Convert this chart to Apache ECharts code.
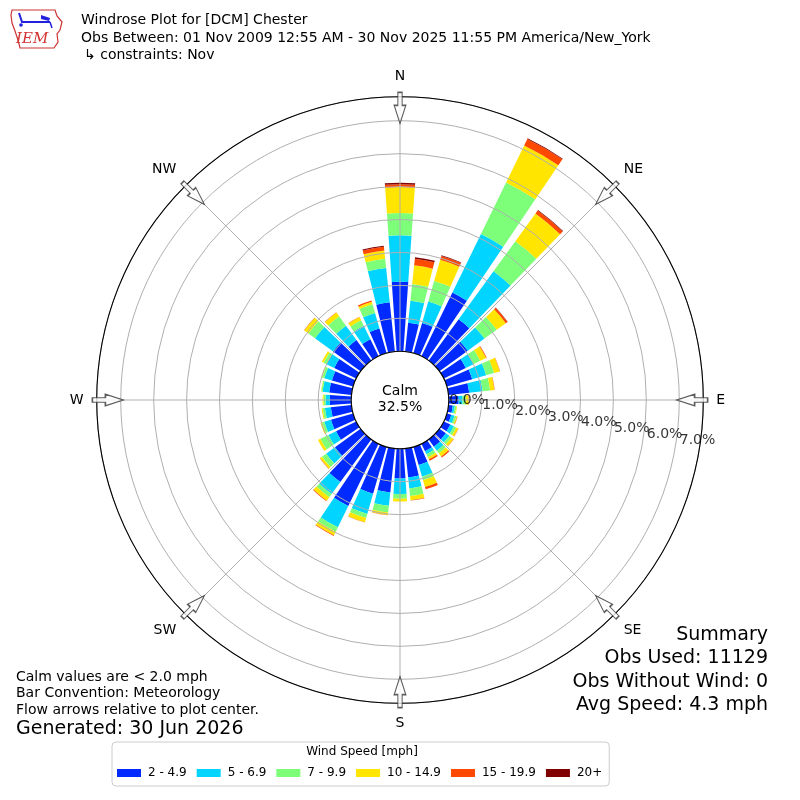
<!DOCTYPE html>
<html><head><meta charset="utf-8">
<script src="https://cdn.jsdelivr.net/npm/echarts@6/dist/echarts.min.js"></script>
<style>html,body{margin:0;padding:0;background:#fff}#c{width:800px;height:800px}</style>
</head><body><div id="c"></div>
<script>
// ---- data ----
const directions = [0,10,20,30,40,50,60,70,80,90,100,110,120,130,140,150,160,170,180,190,200,210,220,230,240,250,260,270,280,290,300,310,320,330,340,350];
const speedBins = ['2 - 4.9', '5 - 6.9', '7 - 9.9', '10 - 14.9', '15 - 19.9', '20+'];
const binColors = ['#002aff', '#00d4ff', '#7dff7a', '#ffe500', '#ff4800', '#800000'];
const speed2to5   = [2.11,0.88,0.95,2.15,1.55,1.06,0.74,0.80,0.63,0.30,0.13,0.14,0.22,0.24,0.27,0.25,0.57,0.88,0.90,1.34,1.48,2.10,1.60,0.96,0.68,0.70,0.63,0.65,0.68,0.67,0.74,1.03,0.77,0.57,0.78,1.50];
const speed5to7   = [1.41,0.67,0.68,1.98,1.80,0.63,0.26,0.44,0.41,0.12,0.06,0.10,0.12,0.13,0.15,0.10,0.37,0.34,0.47,0.41,0.64,0.72,0.45,0.33,0.26,0.21,0.18,0.13,0.20,0.24,0.26,0.68,0.54,0.46,0.49,1.05];
const speed7to10  = [0.68,0.51,0.65,1.74,1.13,0.46,0.23,0.25,0.23,0.10,0.05,0.06,0.08,0.08,0.10,0.10,0.11,0.23,0.15,0.20,0.13,0.15,0.12,0.16,0.27,0.07,0.07,0.06,0.04,0.07,0.10,0.25,0.35,0.18,0.27,0.28];
const speed10to15 = [0.79,0.57,0.67,1.25,1.04,0.34,0.20,0.18,0.13,0.08,0.02,0.03,0.07,0.08,0.12,0.07,0.22,0.13,0.08,0.08,0.13,0.12,0.13,0.07,0.08,0.05,0.03,0.03,0.01,0.02,0.06,0.15,0.14,0.11,0.08,0.25];
const speed15to20 = [0.08,0.20,0.12,0.22,0.11,0.06,0.02,0.01,0.01,0.01,0,0.01,0.01,0.01,0.04,0.05,0.07,0.01,0,0.01,0.01,0.02,0.02,0.01,0,0,0,0,0,0,0,0.01,0.01,0.01,0.04,0.12];
const speed20plus = [0.05,0.05,0.02,0.02,0.02,0.01,0,0,0,0,0,0,0,0,0,0,0,0,0,0,0,0,0,0,0,0,0,0,0,0,0,0,0,0,0,0.03];
const radialTicks = [0,1,2,3,4,5,6,7];
const compassAngles = [0,45,90,135,180,225,270,315];
const compassNames  = ['N','NE','E','SE','S','SW','W','NW'];
const calmPercent = '32.5%';

const binSeries = [speed2to5, speed5to7, speed7to10, speed10to15, speed15to20, speed20plus];
const FONT = 'DejaVu Sans';
const rMax = 7.73;
const arrowR = 7.39;
const compassLabel = {};
compassAngles.forEach((a, i) => compassLabel[a] = compassNames[i]);

const chart = echarts.init(document.getElementById('c'), null, {renderer: 'canvas'});

const barSeries = binSeries.map((vals, i) => ({
  type: 'bar', name: speedBins[i], coordinateSystem: 'polar', polarIndex: 0,
  stack: 'wind', data: vals, barCategoryGap: '20%',
  itemStyle: {color: binColors[i]}, silent: true, z: 2
}));

const txt = (x, y, s, size, align) => ({
  type: 'text', x: x, y: y, silent: true,
  style: {text: s, fontFamily: FONT, fontSize: size, fill: '#000', textAlign: align || 'left', textVerticalAlign: 'middle'}
});

const option = {
  animation: false,
  backgroundColor: '#fff',
  textStyle: {fontFamily: FONT},
  polar: [
    {center: [400, 400], radius: [48.8, 303.3]},
    {center: [400, 400], radius: [48.8, 303.3]}
  ],
  angleAxis: [
    {polarIndex: 0, type: 'category', data: directions, startAngle: 95, clockwise: true,
     axisLine: {show: false}, axisTick: {show: false}, axisLabel: {show: false}, splitLine: {show: false}},
    {polarIndex: 1, type: 'value', min: 0, max: 360, interval: 45, startAngle: 90, clockwise: true, z: 6,
     axisLine: {show: true, lineStyle: {color: '#000', width: 1.1}},
     axisTick: {show: false},
     axisLabel: {show: true, margin: 13, fontSize: 14, color: '#000', fontFamily: FONT,
                 formatter: v => (v === 360 ? '' : (compassLabel[v] || ''))},
     splitLine: {show: true, lineStyle: {color: '#b0b0b0', width: 1}}}
  ],
  radiusAxis: [
    {polarIndex: 0, type: 'value', min: 0, max: rMax,
     axisLine: {show: false}, axisTick: {show: false}, axisLabel: {show: false}, splitLine: {show: false}},
    {polarIndex: 1, type: 'value', min: 0, max: rMax, interval: 1, z: 5,
     axisLine: {show: false}, axisTick: {show: false}, axisLabel: {show: false},
     splitLine: {show: true, lineStyle: {color: '#b0b0b0', width: 1}}}
  ],
  legend: {
    left: 112, top: 742, orient: 'horizontal',
    padding: [25, 7, 7, 5],
    itemWidth: 24, itemHeight: 8, itemGap: 10,
    icon: 'rect', selectedMode: false,
    borderColor: '#cccccc', borderWidth: 1, borderRadius: 4,
    textStyle: {fontSize: 12, color: '#000', fontFamily: FONT, padding: [0, 0, 0, 2]},
    data: speedBins
  },
  series: barSeries.concat([
    {
      type: 'scatter', coordinateSystem: 'polar', polarIndex: 1, clip: false, silent: true, z: 7,
      symbol: 'path://M6,0L13,0L13,13L19,13L9.5,31L0,13L6,13Z', symbolSize: [19, 31], symbolKeepAspect: true,
      itemStyle: {color: '#ffffff', borderColor: '#333333', borderWidth: 1.3},
      data: compassAngles.map(a => ({value: [arrowR, a], symbolRotate: -a}))
    },
    {
      type: 'scatter', coordinateSystem: 'polar', polarIndex: 1, clip: false, silent: true, z: 8,
      symbolSize: 1, itemStyle: {color: 'transparent'},
      label: {show: true, position: 'right', distance: 0, fontSize: 14, color: '#000', fontFamily: FONT,
              formatter: p => p.value[0].toFixed(1) + '%'},
      data: radialTicks.map(k => ({value: [k, 90], label: {offset: [0, k * 5.7]}}))
    }
  ]),
  graphic: [
    // logo
    {type: 'polygon', silent: true, shape: {points: [[12,10],[55,10],[57,16],[62,22],[60,30],[57,34],[58,42],[54,48],[20,48],[18,40],[15,31],[12,23],[11,15]]},
     style: {fill: 'none', stroke: '#cc3333', lineWidth: 1.2}},
    {type: 'polyline', silent: true, shape: {points: [[19,13],[22,22],[50,22]]}, style: {stroke: '#2222dd', lineWidth: 2, fill: 'none'}},
    {type: 'polygon', silent: true, shape: {points: [[41,15],[50,18],[49,21],[41,19]]}, style: {fill: '#2222dd'}},
    {type: 'polyline', silent: true, shape: {points: [[50,22],[52,28]]}, style: {stroke: '#2222dd', lineWidth: 1.5}},
    {type: 'circle', silent: true, shape: {cx: 21, cy: 25, r: 1.8}, style: {fill: '#2222dd'}},
    {type: 'text', silent: true, x: 16, y: 39, style: {text: 'IEM', fontFamily: 'DejaVu Serif', fontStyle: 'italic', fontSize: 15, fill: '#d33333', textVerticalAlign: 'middle'}},
    // header
    txt(81, 20, 'Windrose Plot for [DCM] Chester', 14),
    txt(81, 38, 'Obs Between: 01 Nov 2009 12:55 AM - 30 Nov 2025 11:55 PM America/New_York', 14),
    txt(84, 55, '\u21b3 constraints: Nov', 14),
    // calm
    txt(400, 391, 'Calm', 14, 'center'),
    txt(400, 407.5, calmPercent, 14, 'center'),
    // bottom-left notes
    txt(16, 677, 'Calm values are < 2.0 mph', 14),
    txt(16, 693, 'Bar Convention: Meteorology', 14),
    txt(16, 710, 'Flow arrows relative to plot center.', 14),
    txt(16, 729, 'Generated: 30 Jun 2026', 19),
    // summary
    txt(768, 635, 'Summary', 19, 'right'),
    txt(768, 658, 'Obs Used: 11129', 19, 'right'),
    txt(768, 682, 'Obs Without Wind: 0', 19, 'right'),
    txt(768, 705, 'Avg Speed: 4.3 mph', 19, 'right'),
    // legend title
    txt(362, 752, 'Wind Speed [mph]', 12, 'center')
  ]
};
chart.setOption(option);
</script>
</body></html>
